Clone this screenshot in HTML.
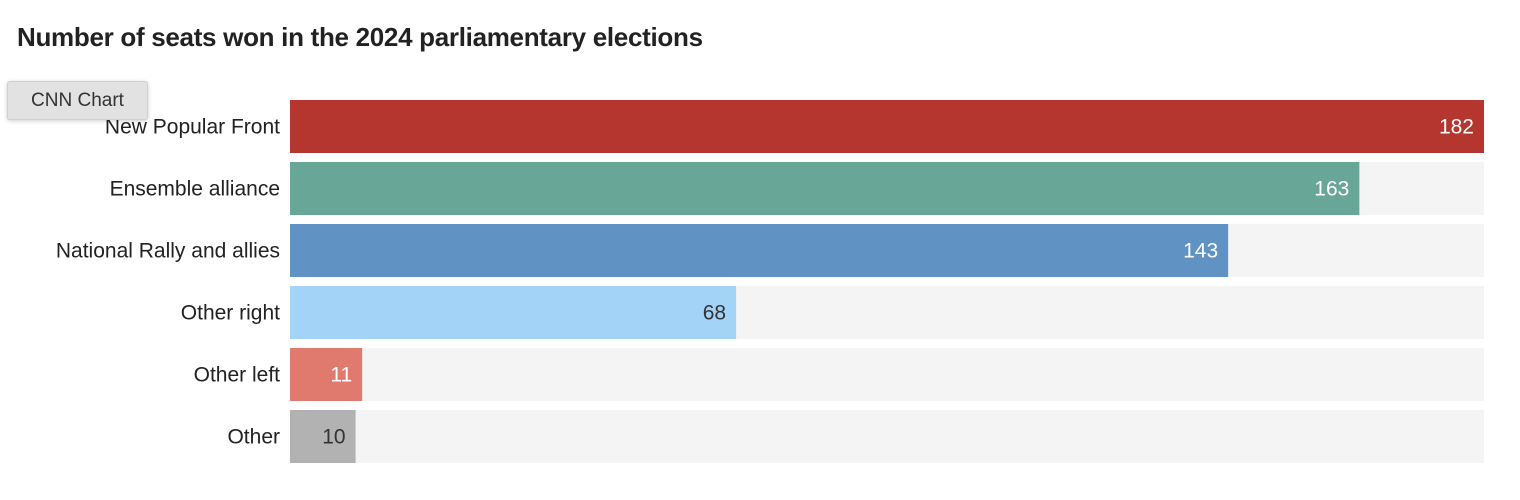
<!DOCTYPE html>
<html><head><meta charset="utf-8"><style>
body{margin:0;width:1520px;height:500px;background:#fff;font-family:"Liberation Sans",sans-serif;position:relative;overflow:hidden}
#title{position:absolute;left:17px;top:22px;font-size:26px;font-weight:bold;color:#222;letter-spacing:-0.3px}
#tip{position:absolute;left:7px;top:81px;width:139px;height:37px;background:#e2e2e2;border:1px solid #d0d0d0;border-radius:3px;box-shadow:0 1px 4px rgba(0,0,0,.2);font-size:19px;color:#333;line-height:37px;text-align:center;z-index:2}
</style></head><body>
<div id="title">Number of seats won in the 2024 parliamentary elections</div>
<div id="tip">CNN Chart</div>
<svg id="chart" width="1520" height="500" style="position:absolute;left:0;top:0"></svg>
<script>
const categories=["New Popular Front","Ensemble alliance","National Rally and allies","Other right","Other left","Other"];
const seats=[182,163,143,68,11,10];
const colors=["#b5362f","#68a797","#6092c3","#a4d3f8","#e07a6e","#b2b2b2"];
const labelColors=["#fff","#fff","#fff","#333","#fff","#333"];
const maxVal=182;
const x0=290,plotW=1194,top0=100,pitch=62,barH=53;
const xs=v=>v/maxVal*plotW;
const svg=document.getElementById('chart');
const NS="http://www.w3.org/2000/svg";
categories.forEach((c,i)=>{
 const y=top0+i*pitch;
 const bg=document.createElementNS(NS,'rect');
 
 
 bg.setAttribute('x',x0);bg.setAttribute('y',y);bg.setAttribute('width',plotW);bg.setAttribute('height',barH);bg.setAttribute('fill','#f4f4f4');svg.appendChild(bg);
 const r=document.createElementNS(NS,'rect');
 
 
 r.setAttribute('x',x0);r.setAttribute('y',y);r.setAttribute('width',xs(seats[i]));r.setAttribute('height',barH);r.setAttribute('fill',colors[i]);svg.appendChild(r);
 const l=document.createElementNS(NS,'text');
 
 
 l.setAttribute('x',x0-10);l.setAttribute('y',y+barH/2+7);l.setAttribute('text-anchor','end');l.setAttribute('font-size','21');l.setAttribute('fill','#222');l.textContent=c;svg.appendChild(l);
 const v=document.createElementNS(NS,'text');
 
 
 v.setAttribute('x',x0+xs(seats[i])-10);v.setAttribute('y',y+barH/2+7);v.setAttribute('text-anchor','end');v.setAttribute('font-size','21');v.setAttribute('fill',labelColors[i]);v.textContent=seats[i];svg.appendChild(v);
});
</script>
</body></html>
